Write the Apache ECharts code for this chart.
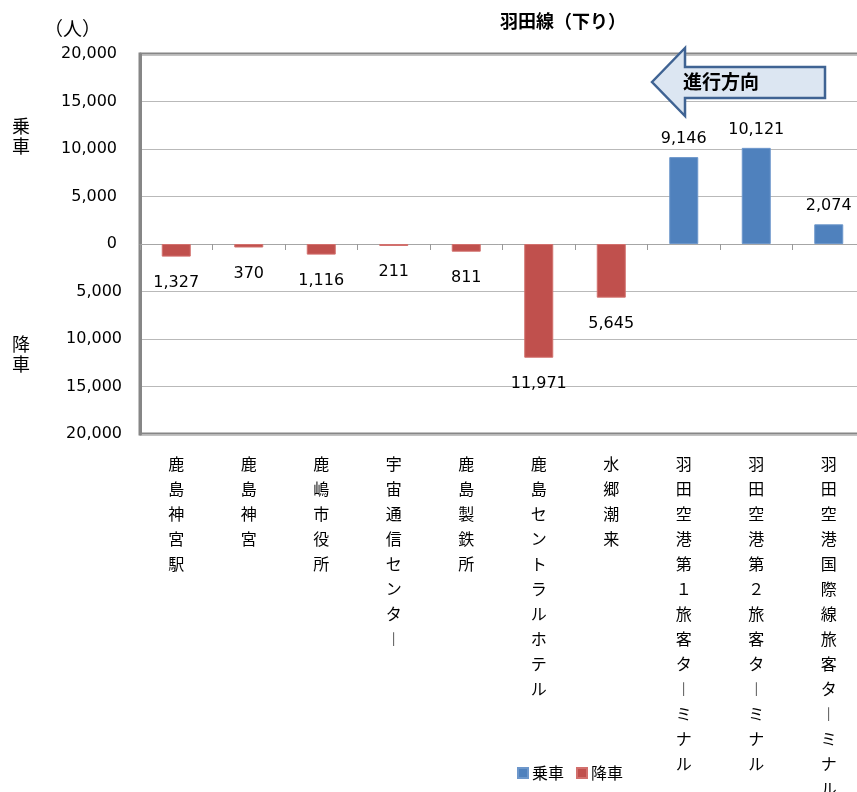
<!DOCTYPE html>
<html>
<head>
<meta charset="utf-8">
<script src="https://cdn.jsdelivr.net/npm/echarts@6/dist/echarts.min.js"></script>
<style>
  html, body { margin: 0; padding: 0; background: #fff; }
  #chart { width: 857px; height: 792px; }
</style>
</head>
<body>
<div id="chart"></div>
<script>
// Stations on the Haneda line (outbound), in running order
const stations = [
  '鹿島神宮駅', '鹿島神宮', '鹿嶋市役所', '宇宙通信センター', '鹿島製鉄所',
  '鹿島セントラルホテル', '水郷潮来',
  '羽田空港第１旅客ターミナル', '羽田空港第２旅客ターミナル', '羽田空港国際線旅客ターミナル'
];
// Passengers boarding (乗車) per stop
const boarding = [null, null, null, null, null, null, null, 9146, 10121, 2074];
// Passengers alighting (降車) per stop, drawn downward from zero
const alighting = [1327, 370, 1116, 211, 811, 11971, 5645, null, null, null];
// Value axis range and step
const axisMin = -20000, axisMax = 20000, axisStep = 5000;

const LATIN = 'DejaVu Sans, "Noto Sans CJK JP", sans-serif';
const CJK = '"Noto Sans CJK JP", sans-serif';
const fmt = v => Math.abs(v).toLocaleString('en-US');

const chart = echarts.init(document.getElementById('chart'), null, { renderer: 'canvas' });

chart.setOption({
  animation: false,
  backgroundColor: '#ffffff',
  title: {
    text: '羽田線（下り）',
    left: 495, top: 7,
    textStyle: { fontFamily: CJK, fontSize: 18, fontWeight: 'bold', color: '#000' }
  },
  legend: {
    left: 512, top: 760,
    icon: 'rect', itemWidth: 10, itemHeight: 10, itemGap: 12,
    textStyle: { fontFamily: CJK, fontSize: 16, color: '#000', padding: [0, 0, 0, -1] },
    data: ['乗車', '降車']
  },
  grid: {
    left: 140, top: 54, width: 725, height: 380,
    outerBoundsMode: 'none', containLabel: false,
    show: true, borderColor: '#868686', borderWidth: 3, backgroundColor: 'transparent'
  },
  xAxis: [
    {
      // station names along the bottom edge
      type: 'category', data: stations, position: 'bottom',
      axisLine: { show: false, onZero: false },
      axisTick: { show: false },
      axisLabel: {
        interval: 0, margin: 17, color: '#000',
        fontFamily: CJK, fontSize: 16, lineHeight: 25, verticalAlign: 'top',
        formatter: name => name.split('').map(c => c === 'ー' ? '︱' : c).join('\n')
      }
    },
    {
      // baseline at zero with category separators
      type: 'category', data: stations, position: 'top',
      axisLine: { show: true, onZero: true, onZeroAxisIndex: 0, lineStyle: { color: '#a6a6a6', width: 1 } },
      axisTick: { show: true, inside: true, interval: 0, length: 6, lineStyle: { color: '#999999', width: 1 } },
      axisLabel: { show: false, interval: 0 }
    }
  ],
  yAxis: {
    type: 'value', min: axisMin, max: axisMax, interval: axisStep,
    axisLine: { show: true, lineStyle: { color: '#868686', width: 3 } },
    axisTick: { show: false },
    splitLine: { show: true, lineStyle: { color: '#b9b9b9', width: 1 } },
    axisLabel: {
      margin: 18, color: '#000', fontFamily: LATIN, fontSize: 16,
      formatter: v => v >= 0 ? '{p|' + fmt(v) + '}' : fmt(v),
      rich: { p: { fontFamily: LATIN, fontSize: 16, color: '#000', padding: [0, 5, 0, 0] } }
    }
  },
  graphic: [
    { type: 'text', left: 44, top: 19, style: { text: '（人）', font: '19px ' + CJK, fill: '#000' } },
    { type: 'text', left: 12, top: 116, style: { text: '乗\n車', font: '18px ' + CJK, lineHeight: 20, fill: '#000' } },
    { type: 'text', left: 12, top: 334, style: { text: '降\n車', font: '18px ' + CJK, lineHeight: 20, fill: '#000' } },
    {
      type: 'polygon', z: 10,
      shape: { points: [[652, 82], [685, 48], [685, 67], [825, 67], [825, 98], [685, 98], [685, 116]] },
      style: { fill: '#dce6f2', stroke: '#3f6393', lineWidth: 2.5 }
    },
    {
      type: 'text', z: 11, left: 683, top: 72,
      style: { text: '進行方向', font: 'bold 19px ' + CJK, fill: '#000' }
    }
  ],
  series: [
    {
      name: '乗車', type: 'bar', xAxisIndex: 0, barWidth: 29, barGap: '-100%',
      data: boarding,
      itemStyle: { color: '#4f81bd', borderColor: '#6d97cb', borderWidth: 1 },
      label: {
        show: true, position: 'top', distance: 10,
        fontFamily: LATIN, fontSize: 16, color: '#000',
        formatter: p => fmt(p.value)
      }
    },
    {
      name: '降車', type: 'bar', xAxisIndex: 0, barWidth: 29, barGap: '-100%',
      data: alighting.map(v => v == null ? null : -v),
      itemStyle: { color: '#c0504d', borderColor: '#d2706d', borderWidth: 1 },
      label: {
        show: true, position: 'bottom', distance: 18,
        fontFamily: LATIN, fontSize: 16, color: '#000',
        formatter: p => fmt(p.value)
      }
    }
  ]
});
</script>
</body>
</html>
